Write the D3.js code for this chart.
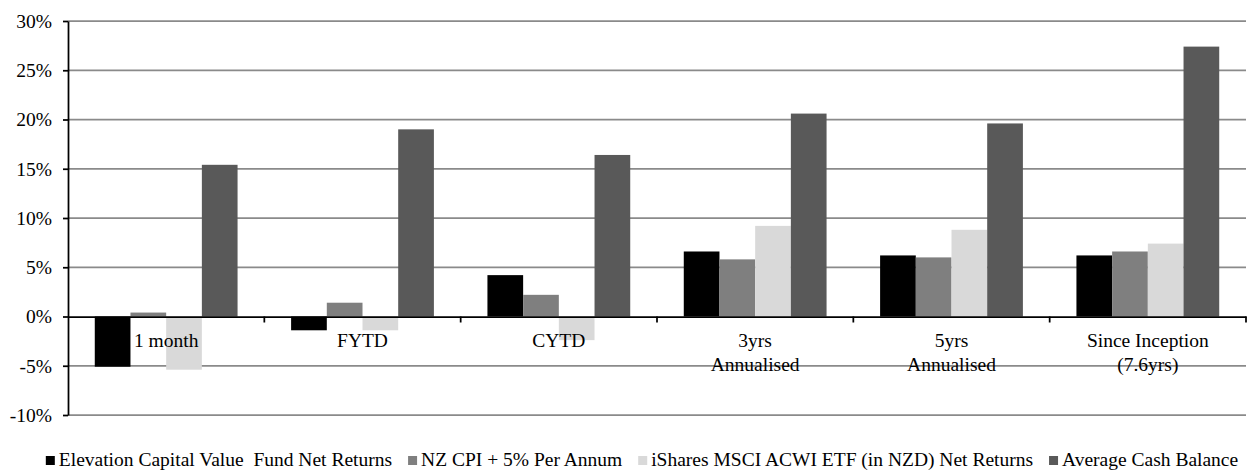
<!DOCTYPE html>
<html>
<head>
<meta charset="utf-8">
<script src="https://cdn.jsdelivr.net/npm/d3@7"></script>
<style>
  body { margin: 0; background: #fff; }
  svg { display: block; }
  svg text { font-family: "Liberation Serif", "DejaVu Serif", serif; }
  .grid line { stroke: #8a8a8a; stroke-width: 1.75; }
  .axis path, .axis line { stroke: #000; stroke-width: 1.75; }
  .axis text { font-size: 19.5px; fill: #000; }
  .cat-label, .legend text { font-size: 19.5px; fill: #000; }
</style>
</head>
<body>
<div id="chart"></div>
<script>
var categories = ["1 month", "FYTD", "CYTD", "3yrs\nAnnualised", "5yrs\nAnnualised", "Since Inception\n(7.6yrs)"];
var seriesNames = [
  "Elevation Capital Value  Fund Net Returns",
  "NZ CPI + 5% Per Annum",
  "iShares MSCI ACWI ETF (in NZD) Net Returns",
  "Average Cash Balance"
];
var fundReturns = [-5.1, -1.4, 4.2, 6.6, 6.2, 6.2];
var cpiReturns = [0.4, 1.4, 2.2, 5.8, 6.0, 6.6];
var isharesReturns = [-5.4, -1.4, -2.4, 9.2, 8.8, 7.4];
var cashBalance = [15.4, 19.0, 16.4, 20.6, 19.6, 27.4];
var yTicks = [-10, -5, 0, 5, 10, 15, 20, 25, 30];

var seriesValues = [fundReturns, cpiReturns, isharesReturns, cashBalance];
var colors = ["#000000", "#7f7f7f", "#d9d9d9", "#595959"];

function init() {
  var w = 1249;
  var h = 470;
  var left = 68, right = 1246, top = 21, bottom = 415;

  var svg = d3.select("#chart")
    .append("svg")
    .attr("width", w)
    .attr("height", h)
    .attr("font-family", "Liberation Serif, DejaVu Serif, serif");

  var xScale = d3.scaleBand()
    .domain(categories)
    .range([left, right])
    .paddingInner(0)
    .paddingOuter(0);

  var xInner = d3.scaleBand()
    .domain(d3.range(seriesNames.length))
    .range([0, xScale.bandwidth()])
    .paddingInner(0)
    .paddingOuter(0.75);

  var yScale = d3.scaleLinear()
    .domain([d3.min(yTicks), d3.max(yTicks)])
    .range([bottom, top]);

  // gridlines (everything except zero, which is the category axis)
  svg.append("g")
    .attr("class", "grid")
    .selectAll("line")
    .data(yTicks.filter(function(d) { return d !== 0; }))
    .enter()
    .append("line")
    .attr("x1", left)
    .attr("x2", right)
    .attr("y1", function(d) { return yScale(d); })
    .attr("y2", function(d) { return yScale(d); });

  var rows = categories.map(function(c, i) {
    return seriesValues.map(function(s, j) { return { cat: c, series: j, value: s[i] }; });
  });

  svg.append("g")
    .selectAll("g")
    .data(rows)
    .enter()
    .append("g")
    .attr("transform", function(d, i) { return "translate(" + xScale(categories[i]) + ",0)"; })
    .selectAll("rect")
    .data(function(d) { return d; })
    .enter()
    .append("rect")
    .attr("x", function(d) { return xInner(d.series); })
    .attr("width", xInner.bandwidth())
    .attr("y", function(d) { return yScale(Math.max(0, d.value)); })
    .attr("height", function(d) { return Math.abs(yScale(d.value) - yScale(0)); })
    .attr("fill", function(d) { return colors[d.series]; });

  var yAxis = d3.axisLeft(yScale)
    .tickValues(yTicks)
    .tickSize(5)
    .tickPadding(11)
    .tickSizeOuter(0)
    .tickFormat(function(d) { return d + "%"; });

  svg.append("g")
    .attr("class", "axis")
    .attr("transform", "translate(" + left + ",0)")
    .call(yAxis)
    .attr("font-family", null);

  // category axis sitting on the zero line, with ticks between groups
  var xAxis = d3.axisBottom(xScale)
    .tickSize(0)
    .tickSizeOuter(0)
    .tickFormat("");

  svg.append("g")
    .attr("class", "axis")
    .attr("transform", "translate(0," + yScale(0) + ")")
    .call(xAxis)
    .selectAll(".sep")
    .data(categories)
    .enter()
    .append("line")
    .attr("class", "sep")
    .attr("x1", function(d) { return xScale(d) + xScale.bandwidth(); })
    .attr("x2", function(d) { return xScale(d) + xScale.bandwidth(); })
    .attr("y1", 0)
    .attr("y2", 6)
    .attr("stroke", "#000")
    .attr("stroke-width", 1.75);

  var labels = svg.append("g")
    .selectAll("text")
    .data(categories)
    .enter()
    .append("text")
    .attr("class", "cat-label")
    .attr("text-anchor", "middle")
    .attr("x", function(d) { return xScale(d) + xScale.bandwidth() / 2; })
    .attr("y", yScale(0) + 30);

  labels.selectAll("tspan")
    .data(function(d) { return d.split("\n"); })
    .enter()
    .append("tspan")
    .attr("x", function() { return d3.select(this.parentNode).attr("x"); })
    .attr("dy", function(d, i) { return i === 0 ? 0 : 24.5; })
    .text(function(d) { return d; });

  // legend, laid out from measured text widths and centred
  var legend = svg.append("g").attr("class", "legend");
  var items = legend.selectAll("g")
    .data(seriesNames)
    .enter()
    .append("g");

  items.append("rect")
    .attr("width", 9)
    .attr("height", 9)
    .attr("y", -10)
    .attr("fill", function(d, i) { return colors[i]; });

  items.append("text")
    .attr("x", 13)
    .text(function(d) { return d; })
    .style("white-space", "pre")
    .attr("xml:space", "preserve");

  var xpos = 0;
  items.each(function(d, i) {
    var tw = d3.select(this).select("text").node().getComputedTextLength();
    d3.select(this).attr("transform", "translate(" + xpos + ",0)");
    xpos += 13 + tw + 16;
  });
  var total = xpos - 16;
  legend.attr("transform", "translate(" + (642 - total / 2) + ",466)");
}

window.onload = init;
</script>
</body>
</html>
